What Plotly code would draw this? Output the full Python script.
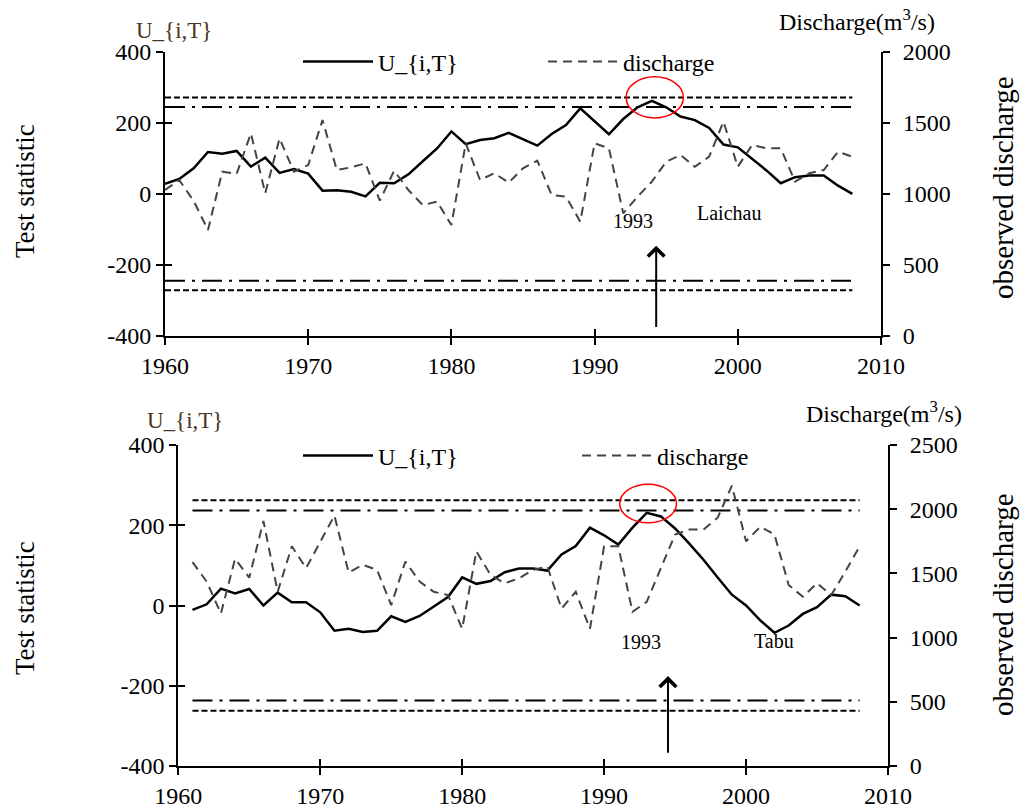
import plotly.graph_objects as go

# ---------------- data ----------------
years_top = list(range(1960, 2009))
u_top = [28, 42, 72, 118, 113, 121, 77, 102, 59, 70,
         57, 9, 10, 6, -7, 31, 30, 55, 92, 128,
         176, 140, 152, 157, 172, 155, 136, 169, 194, 241,
         204, 168, 211, 244, 262, 244, 218, 208, 186, 139,
         131, 99, 66, 30, 47, 52, 52, 23, 0]
q_top = [1027, 1097, 950, 745, 1156, 1140, 1427, 1004, 1391, 1156,
         1203, 1520, 1168, 1187, 1215, 952, 1163, 1027, 921, 945,
         780, 1356, 1098, 1145, 1079, 1180, 1234, 992, 980, 804,
         1356, 1321, 863, 980, 1086, 1227, 1274, 1191, 1262, 1509,
         1191, 1344, 1321, 1321, 1086, 1145, 1168, 1297, 1262]

years_bot = list(range(1961, 2009))
u_bot = [-11, 3, 42, 30, 41, 0, 32, 8, 8,
         -17, -63, -58, -66, -63, -27, -41, -26, -2, 21,
         70, 54, 61, 83, 92, 92, 87, 127, 148, 194,
         175, 152, 194, 231, 222, 192, 154, 114, 70, 27,
         0, -37, -68, -50, -21, -4, 27, 23, 0]
q_bot = [1588, 1436, 1187, 1614, 1467, 1908, 1357, 1711, 1541,
         1740, 1950, 1507, 1567, 1528, 1253, 1593, 1436, 1357, 1331,
         1069, 1672, 1488, 1423, 1462, 1528, 1554, 1226, 1357, 1069,
         1711, 1711, 1200, 1279, 1541, 1803, 1842, 1842, 1934, 2183,
         1750, 1863, 1803, 1410, 1318, 1423, 1331, 1515, 1711]

crit_top_outer, crit_top_inner = 272, 245
crit_bot_outer, crit_bot_inner = 262, 237

change_year = 1993
station_top = "Laichau"
station_bot = "Tabu"

x_ticks = [1960, 1970, 1980, 1990, 2000, 2010]
u_ticks = [-400, -200, 0, 200, 400]
u_ticktext = ["-400", "-200", "0", "200", "400"]
q_ticks_top = [0, 500, 1000, 1500, 2000]
q_ticks_bot = [0, 500, 1000, 1500, 2000, 2500]

# ---------------- styling ----------------
FONT = "Liberation Serif, Times New Roman, serif"
W, H = 1023, 811
DOTTED = "6px,3px"
DASHDOT = "20px,7px,3px,7px"
QDASH = "9px,6px"
QCOL = "#444444"

fig = go.Figure()

def add_panel(years, u, q, outer, inner, xa, ya, ya2, legend):
    x0, x1 = years[0], years[-1]
    for val in (outer, -outer):
        fig.add_trace(go.Scatter(x=[x0, x1], y=[val, val], mode="lines",
                                 line=dict(color="black", width=2, dash=DOTTED),
                                 showlegend=False, hoverinfo="skip",
                                 xaxis=xa, yaxis=ya))
    for val in (inner, -inner):
        fig.add_trace(go.Scatter(x=[x0, x1], y=[val, val], mode="lines",
                                 line=dict(color="black", width=2, dash=DASHDOT),
                                 showlegend=False, hoverinfo="skip",
                                 xaxis=xa, yaxis=ya))
    fig.add_trace(go.Scatter(x=years, y=u, mode="lines", name="U_{i,T}",
                             line=dict(color="black", width=2.5),
                             legend=legend, xaxis=xa, yaxis=ya))
    fig.add_trace(go.Scatter(x=years, y=q, mode="lines", name="discharge",
                             line=dict(color=QCOL, width=2, dash=QDASH),
                             legend=legend, xaxis=xa, yaxis=ya2))

add_panel(years_top, u_top, q_top, crit_top_outer, crit_top_inner, "x", "y", "y2", "legend")
add_panel(years_bot, u_bot, q_bot, crit_bot_outer, crit_bot_inner, "x2", "y3", "y4", "legend2")

# helper traces so the crossing-tick overlay axes get drawn
fig.add_trace(go.Scatter(x=[None], y=[None], xaxis="x3", yaxis="y5", showlegend=False, hoverinfo="skip"))
fig.add_trace(go.Scatter(x=[None], y=[None], xaxis="x4", yaxis="y6", showlegend=False, hoverinfo="skip"))

tickfont = dict(family=FONT, size=24, color="black")
ax_common = dict(showgrid=False, zeroline=False, showline=True, linecolor="black",
                 linewidth=2, ticks="outside", ticklen=7, tickwidth=2, tickcolor="black",
                 tickfont=tickfont, automargin=False)
inner_ticks = dict(showticklabels=False, showline=False, showgrid=False, zeroline=False,
                   ticks="inside", ticklen=7, tickwidth=2, tickcolor="black")

dom_x_top = [165 / W, 881 / W]
dom_y_top = [1 - 335.7 / H, 1 - 52 / H]
dom_x_bot = [178.3 / W, 888 / W]
dom_y_bot = [1 - 766 / H, 1 - 445 / H]

fig.update_layout(
    width=W, height=H, margin=dict(l=0, r=0, t=0, b=0),
    paper_bgcolor="white", plot_bgcolor="white",
    font=dict(family=FONT, color="black"),
    xaxis=dict(domain=dom_x_top, anchor="y", range=[1960, 2010], tickvals=x_ticks, **ax_common),
    yaxis=dict(domain=dom_y_top, anchor="x", range=[-400, 400], tickvals=u_ticks, ticktext=u_ticktext, **ax_common),
    yaxis2=dict(overlaying="y", side="right", anchor="x", range=[0, 2000], tickvals=q_ticks_top,
                ticklabelstandoff=8, **ax_common),
    xaxis2=dict(domain=dom_x_bot, anchor="y3", range=[1960, 2010], tickvals=x_ticks, **ax_common),
    yaxis3=dict(domain=dom_y_bot, anchor="x2", range=[-400, 400], tickvals=u_ticks, ticktext=u_ticktext, **ax_common),
    yaxis4=dict(overlaying="y3", side="right", anchor="x2", range=[0, 2500], tickvals=q_ticks_bot,
                ticklabelstandoff=8, **ax_common),
    xaxis3=dict(overlaying="x", anchor="y", range=[1960, 2010], tickvals=x_ticks, **inner_ticks),
    yaxis5=dict(overlaying="y", anchor="x", range=[-400, 400], tickvals=u_ticks, **inner_ticks),
    xaxis4=dict(overlaying="x2", anchor="y3", range=[1960, 2010], tickvals=x_ticks, **inner_ticks),
    yaxis6=dict(overlaying="y3", anchor="x2", range=[-400, 400], tickvals=u_ticks, **inner_ticks),
    legend=dict(orientation="h", x=298 / W, y=1 - 62 / H, xanchor="left", yanchor="middle",
                font=dict(family=FONT, size=24), itemwidth=70, entrywidth=160, entrywidthmode="pixels",
                bgcolor="rgba(0,0,0,0)", tracegroupgap=0),
    legend2=dict(orientation="h", x=298 / W, y=1 - 456 / H, xanchor="left", yanchor="middle",
                 font=dict(family=FONT, size=24), itemwidth=70, entrywidth=194, entrywidthmode="pixels",
                 bgcolor="rgba(0,0,0,0)", tracegroupgap=0),
    showlegend=True,
)

# red circles marking the change point
fig.add_shape(type="circle", xref="x", yref="y", x0=change_year + 1.2 - 2.0, x1=change_year + 1.2 + 2.0,
              y0=272 - 58, y1=272 + 58, line=dict(color="red", width=1.5))
fig.add_shape(type="circle", xref="x2", yref="y3", x0=change_year + 0.1 - 2.0, x1=change_year + 0.1 + 2.0,
              y0=254 - 48, y1=254 + 48, line=dict(color="red", width=1.5))

ann_font = dict(family=FONT, size=20, color="black")

def lab(x, y, text, size, color="black", angle=0):
    return dict(x=x / W, y=1 - y / H, xref="paper", yref="paper", text=text, showarrow=False,
                xanchor="center", yanchor="middle", textangle=angle,
                font=dict(family=FONT, size=size, color=color))

annotations = [
    # arrows
    dict(x=1994.3, y=-146, ax=1994.3, ay=-380, xref="x", yref="y", axref="x", ayref="y",
         text="", showarrow=True, arrowhead=4, arrowsize=1.6, arrowwidth=2, arrowcolor="black"),
    dict(x=1994.5, y=-176, ax=1994.5, ay=-371, xref="x2", yref="y3", axref="x2", ayref="y3",
         text="", showarrow=True, arrowhead=4, arrowsize=1.6, arrowwidth=2, arrowcolor="black"),
    # labels
    dict(x=1992.7, y=-76, xref="x", yref="y", text=str(change_year), showarrow=False, font=ann_font),
    dict(x=1999.4, y=-53, xref="x", yref="y", text=station_top, showarrow=False, font=ann_font),
    dict(x=1992.6, y=-91, xref="x2", yref="y3", text=str(change_year), showarrow=False, font=ann_font),
    dict(x=2002.0, y=-88, xref="x2", yref="y3", text=station_bot, showarrow=False, font=ann_font),
    # axis titles
    lab(174, 30, "U_{i,T}", 23, "#4a3520"),
    lab(185, 420, "U_{i,T}", 23, "#4a3520"),
    lab(857, 20, "Discharge(m<sup>3</sup>/s)", 24),
    lab(884, 412, "Discharge(m<sup>3</sup>/s)", 24),
    lab(25, 191, "Test statistic", 27, angle=-90),
    lab(25, 608, "Test statistic", 27, angle=-90),
    lab(1003, 188, "observed discharge", 29, angle=-90),
    lab(1003, 605, "observed discharge", 29, angle=-90),
]
fig.update_layout(annotations=annotations)

fig.write_html("out.html")
